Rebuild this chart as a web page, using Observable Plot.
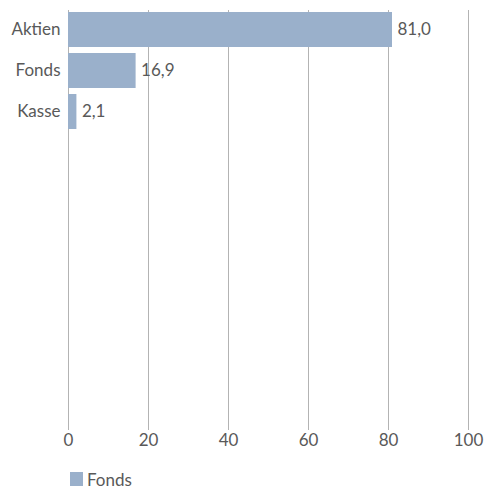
<!DOCTYPE html>
<html>
<head>
<meta charset="utf-8">
<script src="https://cdn.jsdelivr.net/npm/d3@7"></script>
<script src="https://cdn.jsdelivr.net/npm/@observablehq/plot@0.6"></script>
<style>
  body { margin: 0; background: #fff; font-family: Lato, "Noto Sans", sans-serif; }
  #legend { display: flex; align-items: center; padding-left: 70px; height: 20px; margin-top: 7px; font-size: 17px; color: #595959; }
  #legend .sw { width: 13px; height: 14px; background: #9ab0cb; margin-right: 4px; }
</style>
</head>
<body>
<div id="chart"></div>
<div id="legend"><span class="sw"></span><span>Fonds</span></div>
<script>
const categories = ["Aktien", "Fonds", "Kasse"];
const values = [81.0, 16.9, 2.1];
const xTicks = [0, 20, 40, 60, 80, 100];

const data = categories.map((c, i) => ({category: c, value: values[i]}));
const fmt = v => v.toFixed(1).replace(".", ",");

const plot = Plot.plot({
  width: 488,
  height: 462,
  marginLeft: 68,
  marginRight: 20,
  marginTop: 10,
  marginBottom: 32,
  style: { fontFamily: "Lato, 'Noto Sans', sans-serif", fontSize: "17px", color: "#595959", background: "#fff" },
  x: { domain: [0, 100], ticks: xTicks, label: null },
  y: { domain: categories, range: [6, 135], padding: 0.146, label: null },
  marks: [
    Plot.gridX(xTicks, { stroke: "#b3b3b3", strokeOpacity: 1, strokeWidth: 1 }),
    Plot.barX(data, { x: "value", y: "category", fill: "#9ab0cb" }),
    Plot.text(data, { x: "value", y: "category", text: d => fmt(d.value), textAnchor: "start", dx: 5, fill: "#595959", fontSize: 17 }),
    Plot.axisX({ ticks: xTicks, tickSize: 0, tickPadding: 3, label: null, fontSize: 17, fill: "#595959" }),
    Plot.axisY({ tickSize: 0, tickPadding: 8, label: null, fontSize: 17, fill: "#595959" })
  ]
});
document.getElementById("chart").appendChild(plot);
</script>
</body>
</html>
